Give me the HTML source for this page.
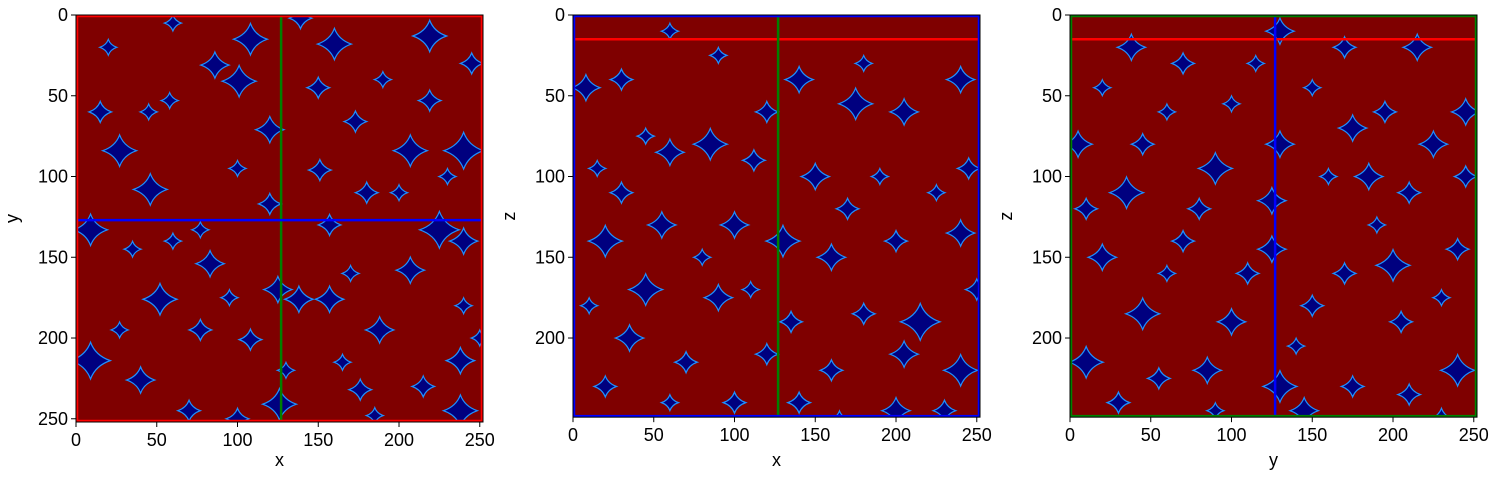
<!DOCTYPE html>
<html><head><meta charset="utf-8"><style>
body{margin:0;background:#fff;}
svg text{font-family:"Liberation Sans","DejaVu Sans",sans-serif;font-size:18px;fill:#000;}
</style></head><body>
<svg id="fig" width="1499" height="477" xmlns="http://www.w3.org/2000/svg"></svg>
<script>
// ---- data ----
const xTicks = [0,50,100,150,200,250];
const yTicksXY = [0,50,100,150,200,250];
const yTicksZ = [0,50,100,150,200];
const panelTitles = [["x","y"],["x","z"],["y","z"]];
const panelRows = [252,249,249];
const sliceIdx = [127,127,15];
// pores: [col,row,radius]
const poresXY = [[27,84,6],[46,108,6],[86,31,5],[108,15,6],[160,18,6],[219,13,6],[101,41,6],[120,71,5],[173,66,4],[207,84,6],[240,84,7],[225,133,7],[9,133,6],[157,130,4],[83,154,5],[52,176,6],[138,176,5],[157,176,5],[120,117,4],[9,214,7],[40,226,5],[77,195,4],[188,195,5],[207,158,5],[238,214,5],[126,241,6],[238,245,6],[176,232,4],[77,133,3],[58,53,3],[139,2,4],[219,53,4],[108,201,4],[151,96,4],[27,195,3],[60,5,3],[190,40,3],[15,60,4],[245,30,4],[70,245,4],[170,160,3],[100,95,3],[200,110,3],[130,220,3],[240,180,3],[35,145,3],[185,248,3],[95,175,3],[150,45,4],[240,140,5],[215,230,4],[60,140,3],[180,110,4],[20,20,3],[125,170,5],[100,250,4],[165,215,3],[250,200,3],[45,60,3],[230,100,3]];
const poresXZ = [[8,45,5],[30,40,4],[60,85,5],[85,80,6],[112,90,4],[140,40,5],[175,55,6],[205,60,5],[240,40,5],[20,140,6],[55,130,5],[100,130,5],[130,140,6],[160,150,5],[200,140,4],[240,135,5],[45,170,6],[90,175,5],[180,185,4],[215,190,7],[35,200,5],[70,215,4],[120,210,4],[160,220,4],[205,210,5],[240,220,6],[20,230,4],[100,240,4],[140,240,4],[230,245,4],[150,100,5],[60,10,3],[190,100,3],[110,170,3],[15,95,3],[245,95,4],[180,30,3],[60,240,3],[90,25,3],[120,60,4],[30,110,4],[170,120,4],[225,110,3],[80,150,3],[250,170,4],[135,190,4],[45,75,3],[200,245,5],[10,180,3],[165,250,3]];
const poresYZ = [[38,20,5],[70,30,4],[130,10,5],[170,20,4],[215,20,5],[245,60,5],[5,80,5],[45,80,4],[90,95,6],[130,80,5],[175,70,5],[225,80,5],[35,110,6],[80,120,4],[125,115,5],[185,100,5],[210,110,4],[20,150,5],[70,140,4],[125,145,5],[170,160,4],[200,155,6],[240,145,4],[45,185,6],[100,190,5],[150,180,4],[205,190,4],[240,220,6],[10,215,6],[55,225,4],[85,220,5],[130,230,6],[175,230,4],[210,235,4],[145,245,5],[20,45,3],[100,55,3],[150,45,3],[60,160,3],[230,175,3],[190,130,3],[10,120,4],[110,160,4],[160,100,3],[245,100,4],[30,240,4],[90,245,3],[230,250,4],[60,60,3],[195,60,4],[140,205,3],[115,30,3]];
const porePanels = [poresXY, poresXZ, poresYZ];
// ---- layout ----
const NS="http://www.w3.org/2000/svg";
const svg=document.getElementById('fig');
function el(t,a,p){const e=document.createElementNS(NS,t);for(const k in a)e.setAttribute(k,a[k]);(p||svg).appendChild(e);return e;}
const lefts=[76,573,1070], T0=15, W=407;
const borderCols=["#ff0000","#0000ff","#008000"];
function blob(cx,cy,r){
  // concave 4-point pore shape
  const k=r*0.35;
  return `M${cx},${cy-r*1.3} Q${cx+k},${cy-k} ${cx+r*1.4},${cy} Q${cx+k},${cy+k} ${cx},${cy+r*1.3} Q${cx-k},${cy+k} ${cx-r*1.4},${cy} Q${cx-k},${cy-k} ${cx},${cy-r*1.3} Z`;
}
panelRows.forEach((rows,i)=>{
  const L=lefts[i], s=W/252, H=rows*s;
  const sx=v=>L+v*s, sy=v=>T0+v*s;
  const g=el('g',{});
  
  
  const cp=el('clipPath',{id:'c'+i},g); el('rect',{x:L,y:T0,width:W,height:H},cp);
  const bg=el('rect',{x:L,y:T0,width:W,height:H,fill:'#7f0000'},g);
  
  
  const pg=el('g',{'clip-path':'url(#c'+i+')'},g);
  porePanels[i].forEach(p=>{
    const c=el('path',{d:blob(sx(p[0]),sy(p[1]),p[2]*s*1.25),fill:'#00007f',stroke:'#1e90ff','stroke-width':1.2},pg);
    
    
  });
  let lines;
  if(i===0) lines=[['v',sliceIdx[0],'#008000'],['h',sliceIdx[1],'#0000ff']];
  else if(i===1) lines=[['h',sliceIdx[2],'#ff0000'],['v',sliceIdx[0],'#008000']];
  else lines=[['h',sliceIdx[2],'#ff0000'],['v',sliceIdx[1],'#0000ff']];
  lines.forEach(l=>{
    const ln = l[0]==='v'? el('line',{x1:sx(l[1]),x2:sx(l[1]),y1:T0,y2:T0+H,stroke:l[2],'stroke-width':2.5},g)
                          : el('line',{x1:L,x2:L+W,y1:sy(l[1]),y2:sy(l[1]),stroke:l[2],'stroke-width':2.5},g);
    
    
  });
  const br=el('rect',{x:L+1,y:T0+1,width:W-2,height:H-2,fill:'none',stroke:borderCols[i],'stroke-width':2.5},g);
  
  
  el('rect',{x:L,y:T0,width:W,height:H,fill:'none',stroke:'#000','stroke-width':1},g);
  xTicks.forEach(t=>{
    el('line',{x1:sx(t),x2:sx(t),y1:T0+H,y2:T0+H+5,stroke:'#000'},g);
    const tx=el('text',{x:sx(t),y:T0+H+24,'text-anchor':'middle'},g); tx.textContent=t;
    
    
  });
  (i===0?yTicksXY:yTicksZ).forEach(t=>{
    el('line',{x1:L-5,x2:L,y1:sy(t),y2:sy(t),stroke:'#000'},g);
    const tx=el('text',{x:L-8,y:sy(t)+6,'text-anchor':'end'},g); tx.textContent=t;
    
    
  });
  const xt=el('text',{x:L+W/2,y:466,'text-anchor':'middle'},g); xt.textContent=panelTitles[i][0];
  
  
  const yx=L-58, yy=T0+H/2;
  const yt=el('text',{x:yx,y:yy,'text-anchor':'middle',transform:`rotate(-90 ${yx} ${yy})`},g); yt.textContent=panelTitles[i][1];
  
  
});
</script>
</body></html>
